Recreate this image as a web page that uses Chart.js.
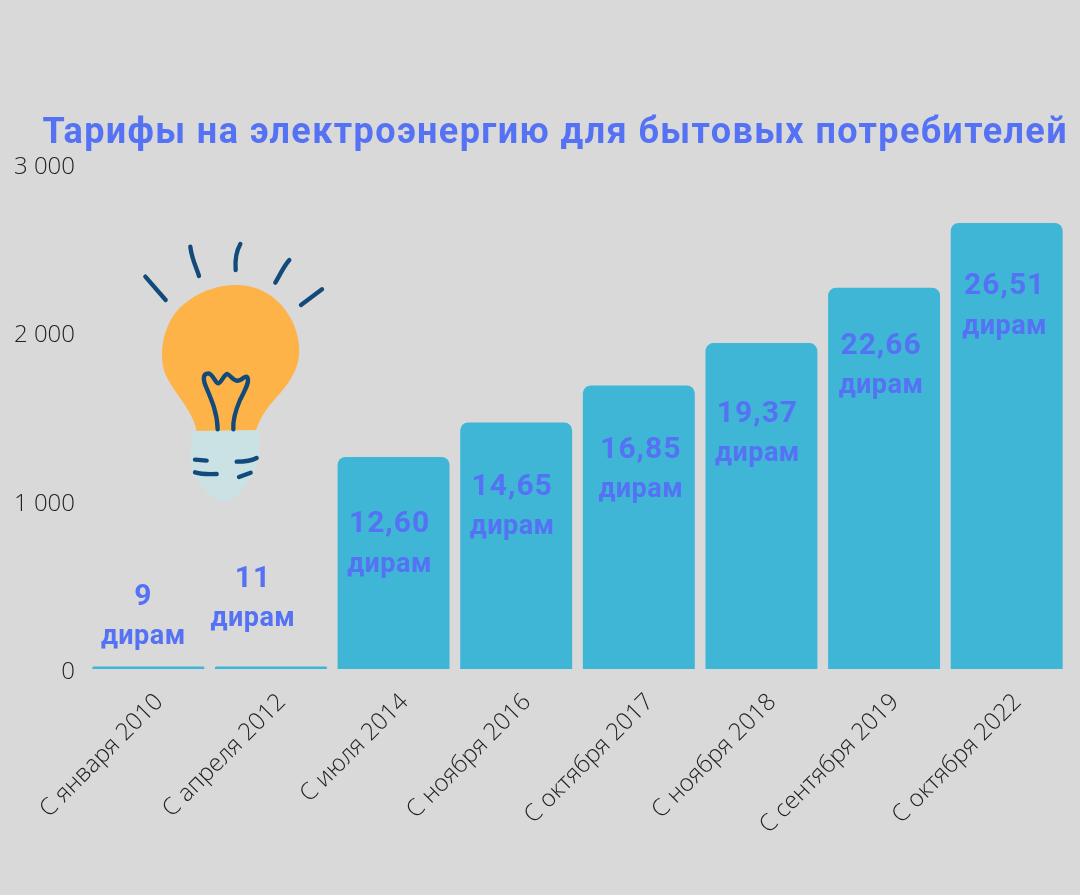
<!DOCTYPE html>
<html lang="ru">
<head>
<meta charset="utf-8">
<title>Тарифы на электроэнергию</title>
<script src="https://cdn.jsdelivr.net/npm/chart.js@4/dist/chart.umd.min.js"></script>
<style>
  html, body { margin: 0; background: #d9d9d9; }
  canvas { display: block; }
</style>
</head>
<body>
<canvas id="chart" width="1080" height="895"></canvas>
<script>
// ---- Data ----
const categories = ["С января 2010", "С апреля 2012", "С июля 2014", "С ноября 2016", "С октября 2017", "С ноября 2018", "С сентября 2019", "С октября 2022"];
const tariffs = [9, 11, 1260, 1465, 1685, 1937, 2266, 2651];
const priceLabels = ["9", "11", "12,60", "14,65", "16,85", "19,37", "22,66", "26,51"];
const unitLabel = "дирам";
const yTicks = [0, 1000, 2000, 3000];

// hand placement of the labels relative to each bar (px), as in the original
const labelShiftX = [-5, -18, -4, -4, 2, -4, -3, -2];
const labelGapY = [-69, -87, 68, 65, 65, 71, 59, 64];
const unitGapY = 40;

const blue = "#5571f4";
const barColor = "#40b6d6";

// ---- Labels on the bars ----
const barLabels = {
  id: "barLabels",
  afterDatasetsDraw(chart) {
    const { ctx } = chart;
    const bars = chart.getDatasetMeta(0).data;
    ctx.save();
    ctx.fillStyle = blue;
    ctx.textAlign = "center";
    ctx.textBaseline = "middle";
    bars.forEach((bar, i) => {
      const x = bar.x + labelShiftX[i];
      const y = bar.y + labelGapY[i];
      ctx.font = "700 30px Roboto";
      ctx.letterSpacing = "1px";
      ctx.fillText(priceLabels[i], x, y);
      ctx.font = "700 27px Roboto";
      ctx.letterSpacing = "0.5px";
      ctx.fillText(unitLabel, x, y + unitGapY);
    });
    ctx.restore();
  },
};

// the title plugin has no letter spacing option, so wrap its draw
const titleSpacing = {
  id: "titleSpacing",
  beforeDraw(chart) {
    const block = chart.titleBlock;
    if (block.spaced) return;
    const draw = block.draw;
    block.spaced = true;
    block.draw = function () {
      chart.ctx.letterSpacing = "1.4px";
      draw.call(block);
      chart.ctx.letterSpacing = "0px";
    };
  },
};

// ---- Light bulb picture ----
const bulbShapes = [
  ["#fdb347", "M320 165C400 165 460 215 490 280C515 340 515 400 480 450C450 500 400 530 378 602L200 605C190 540 130 490 105 430C85 370 100 300 135 250C180 195 250 165 320 165Z"],
  ["#cbe2e4", "M190 603L385 600C395 660 385 720 350 760C330 790 310 815 280 815C250 810 225 780 200 750C175 710 178 650 190 603Z"],
];
const bulbStrokes = [
  "M263 598C262 550 245 510 230 475C218 450 218 430 235 430C250 432 255 460 265 460C275 458 282 432 292 432C302 435 310 455 325 452C340 448 345 435 352 442C360 455 345 480 330 510C315 545 308 570 310 598",
  "M46 140L107 210",
  "M181 50C185 85 198 110 207 138",
  "M331 42C318 65 315 95 317 120",
  "M478 90C460 110 450 135 436 158",
  "M576 178L513 225",
  "M195 689L230 692",
  "M320 695C345 695 365 692 380 684",
  "M195 727C215 733 240 733 260 732",
  "M327 741L362 728",
];
const bulb = {
  id: "bulb",
  afterDraw(chart) {
    const { ctx } = chart;
    ctx.save();
    ctx.translate(130, 230);
    ctx.scale(1 / 3, 1 / 3);
    bulbShapes.forEach(([color, d]) => {
      ctx.fillStyle = color;
      ctx.fill(new Path2D(d));
    });
    ctx.strokeStyle = "#124a7c";
    ctx.lineWidth = 13;
    ctx.lineCap = "round";
    ctx.lineJoin = "round";
    bulbStrokes.forEach((d) => ctx.stroke(new Path2D(d)));
    ctx.restore();
  },
};

// ---- Chart ----
new Chart(document.getElementById("chart"), {
  type: "bar",
  data: {
    labels: categories,
    datasets: [{
      data: tariffs,
      backgroundColor: barColor,
      borderRadius: { topLeft: 8, topRight: 8 },
      borderSkipped: "bottom",
      categoryPercentage: 1,
      barPercentage: 0.913,
      minBarLength: 2.5,
    }],
  },
  plugins: [titleSpacing, barLabels, bulb],
  options: {
    responsive: false,
    animation: false,
    layout: { padding: { top: 0, right: 12, bottom: 0, left: 0 } },
    plugins: {
      legend: { display: false },
      tooltip: { enabled: false },
      title: {
        display: true,
        text: "Тарифы на электроэнергию для бытовых потребителей",
        color: blue,
        align: "end",
        font: { family: "Roboto", size: 36, weight: "700", lineHeight: 1.2 },
        padding: { top: 112, bottom: 9 },
      },
    },
    scales: {
      x: {
        grid: { display: false },
        border: { display: false },
        afterFit: (scale) => { scale.height = 226; },
        ticks: {
          color: "#222",
          font: { family: "Open Sans", size: 24, weight: "300" },
          maxRotation: 45,
          minRotation: 45,
          padding: 11,
          labelOffset: 11,
          autoSkip: false,
        },
      },
      y: {
        min: 0,
        max: 3000,
        grid: { display: false },
        border: { display: false },
        afterFit: (scale) => { scale.width = 87; },
        afterBuildTicks: (scale) => { scale.ticks = yTicks.map((value) => ({ value })); },
        ticks: {
          color: "#222",
          font: { family: "Open Sans", size: 24, weight: "300" },
          padding: 4,
          labelOffset: 3,
          callback: (v) => String(v).replace(/\B(?=(\d{3})+$)/g, " "),
        },
      },
    },
  },
});
</script>
</body>
</html>
